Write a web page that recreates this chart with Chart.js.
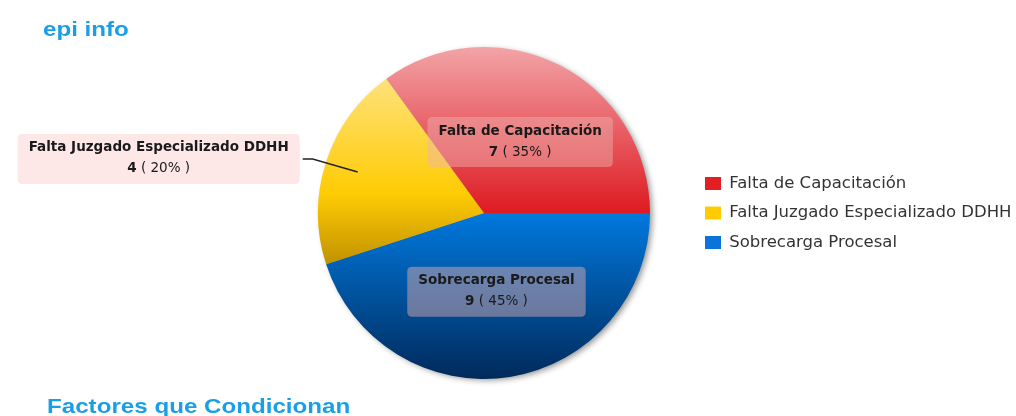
<!DOCTYPE html>
<html><head><meta charset="utf-8">
<script src="https://cdn.jsdelivr.net/npm/chart.js@4.4.1/dist/chart.umd.min.js"></script>
<style>
html,body{margin:0;padding:0;background:#fff;overflow:hidden;}
#wrap{position:relative;width:1016px;height:416px;}
canvas{position:absolute;left:0;top:0;}
.ttl{position:absolute;font-family:"Liberation Sans",Arial,sans-serif;font-weight:bold;font-size:21px;line-height:21px;color:#1a9fe6;white-space:nowrap;transform-origin:0 0;transform:scaleX(1.15);}
</style></head><body>
<div id="wrap">
<canvas id="c" width="1016" height="416"></canvas>
<div class="ttl" style="left:43px;top:18px">epi info</div>
<div class="ttl" style="left:47px;top:395px">Factores que Condicionan</div>
</div>
<script>
const categories = ['Falta de Capacitación', 'Falta Juzgado Especializado DDHH', 'Sobrecarga Procesal'];
const values = [7, 4, 9];
const legendColors = ['#e31e24', '#ffcc00', '#0a74da'];
const gradientStops = [
  [[0, '#f2a4a7'], [1, '#de1a22']],
  [[0, '#fde27a'], [0.62, '#ffcb04'], [1, '#c09200']],
  [[0, '#0079de'], [1, '#002a5b']]
];
const outsideLabel = [false, true, false];
const labelBoxFill = ['rgba(237,180,178,0.45)', '#fde7e7', 'rgba(237,180,178,0.45)'];

const total = values.reduce((a, b) => a + b, 0);
// Chart.js draws clockwise; reverse to obtain the counter-clockwise order of the reference
const order = categories.map((_, i) => categories.length - 1 - i);
const dsLabels = order.map(i => categories[i]);
const dsValues = order.map(i => values[i]);

function sliceGradient(ctx) {
  if (ctx.type !== 'data') return legendColors[0];
  const chart = ctx.chart, area = chart.chartArea;
  const src = order[ctx.dataIndex];
  if (!area) return legendColors[src];
  const cx = (area.left + area.right) / 2, cy = (area.top + area.bottom) / 2;
  const r = Math.min(area.right - area.left, area.bottom - area.top) / 2;
  let start = 0;
  for (let k = 0; k < ctx.dataIndex; k++) start += dsValues[k] / total * 2 * Math.PI;
  const end = start + dsValues[ctx.dataIndex] / total * 2 * Math.PI;
  const ys = [cy, cy + r * Math.sin(start), cy + r * Math.sin(end)];
  [Math.PI / 2, 3 * Math.PI / 2].forEach(a => { if (a > start && a < end) ys.push(cy + r * Math.sin(a)); });
  const y0 = Math.min(...ys), y1 = Math.max(...ys);
  const g = chart.ctx.createLinearGradient(0, y0, 0, y1);
  gradientStops[src].forEach(([o, c]) => g.addColorStop(o, c));
  return g;
}

function roundRect(c, x, y, w, h, r) {
  c.beginPath();
  c.moveTo(x + r, y); c.lineTo(x + w - r, y); c.quadraticCurveTo(x + w, y, x + w, y + r);
  c.lineTo(x + w, y + h - r); c.quadraticCurveTo(x + w, y + h, x + w - r, y + h);
  c.lineTo(x + r, y + h); c.quadraticCurveTo(x, y + h, x, y + h - r);
  c.lineTo(x, y + r); c.quadraticCurveTo(x, y, x + r, y); c.closePath();
}

const shadowPlugin = {
  id: 'pieShadow',
  beforeDatasetsDraw(chart) {
    const arc = chart.getDatasetMeta(0).data[0];
    if (!arc) return;
    const c = chart.ctx;
    c.save();
    c.shadowColor = 'rgba(0,0,0,0.45)'; c.shadowBlur = 6; c.shadowOffsetX = 3; c.shadowOffsetY = 2;
    c.beginPath(); c.arc(arc.x, arc.y, arc.outerRadius - 1, 0, 2 * Math.PI);
    c.fillStyle = '#999'; c.fill();
    c.restore();
  }
};

const labelPlugin = {
  id: 'sliceLabels',
  afterDatasetsDraw(chart) {
    const c = chart.ctx;
    const boldFont = 'bold 13.5px "DejaVu Sans", sans-serif';
    const normFont = '13.5px "DejaVu Sans", sans-serif';
    chart.getDatasetMeta(0).data.forEach((arc, j) => {
      const src = order[j];
      const pct = Math.round(values[src] / total * 100);
      const line1 = categories[src];
      const numTxt = String(values[src]);
      const pctTxt = ' ( ' + pct + '% )';
      c.save();
      c.font = boldFont;
      const w1 = c.measureText(line1).width;
      const wn = c.measureText(numTxt).width;
      c.font = normFont;
      const wp = c.measureText(pctTxt).width;
      const bw = Math.max(w1, wn + wp) + 22, bh = 50;
      const mid = (arc.startAngle + arc.endAngle) / 2;
      let bx, by;
      if (outsideLabel[src]) {
        const px = arc.x + Math.cos(mid) * arc.outerRadius * 0.8;
        const py = arc.y + Math.sin(mid) * arc.outerRadius * 0.8;
        const bxp = px - 45, byp = py - 13;
        c.strokeStyle = '#222'; c.lineWidth = 1.4;
        c.beginPath(); c.moveTo(px, py); c.lineTo(bxp, byp); c.lineTo(bxp - 10, byp); c.stroke();
        bx = bxp - 13 - bw; by = byp - bh / 2;
      } else {
        const f = 0.48 * arc.outerRadius;
        const px = arc.x + Math.cos(mid) * f, py = arc.y + Math.sin(mid) * f;
        bx = px - bw / 2; by = py - bh / 2;
      }
      roundRect(c, bx, by, bw, bh, 5);
      c.fillStyle = labelBoxFill[src]; c.fill();
      const cxm = bx + bw / 2;
      c.fillStyle = '#1a1a1a'; c.textBaseline = 'middle'; c.textAlign = 'left';
      c.font = boldFont;
      c.fillText(line1, cxm - w1 / 2, by + 14);
      const sx = cxm - (wn + wp) / 2;
      c.fillText(numTxt, sx, by + 35);
      c.font = normFont;
      c.fillText(pctTxt, sx + wn, by + 35);
      c.restore();
    });
  }
};

new Chart(document.getElementById('c'), {
  type: 'pie',
  data: {
    labels: dsLabels,
    datasets: [{ data: dsValues, backgroundColor: sliceGradient, borderWidth: 0 }]
  },
  options: {
    responsive: false,
    animation: false,
    rotation: 90,
    layout: { padding: { top: 47, bottom: 37, left: 276, right: 2 } },
    plugins: {
      tooltip: { enabled: false },
      legend: {
        position: 'right',
        maxWidth: 322,
        labels: {
          boxWidth: 16, boxHeight: 13, padding: 13,
          color: '#333',
          font: { family: '"DejaVu Sans", sans-serif', size: 16.5 },
          generateLabels() {
            return categories.map((name, i) => ({
              text: name, fillStyle: legendColors[i], strokeStyle: legendColors[i],
              lineWidth: 0, hidden: false, index: order.indexOf(i), fontColor: '#333'
            }));
          }
        }
      }
    }
  },
  plugins: [shadowPlugin, labelPlugin]
});
</script>
</body></html>
